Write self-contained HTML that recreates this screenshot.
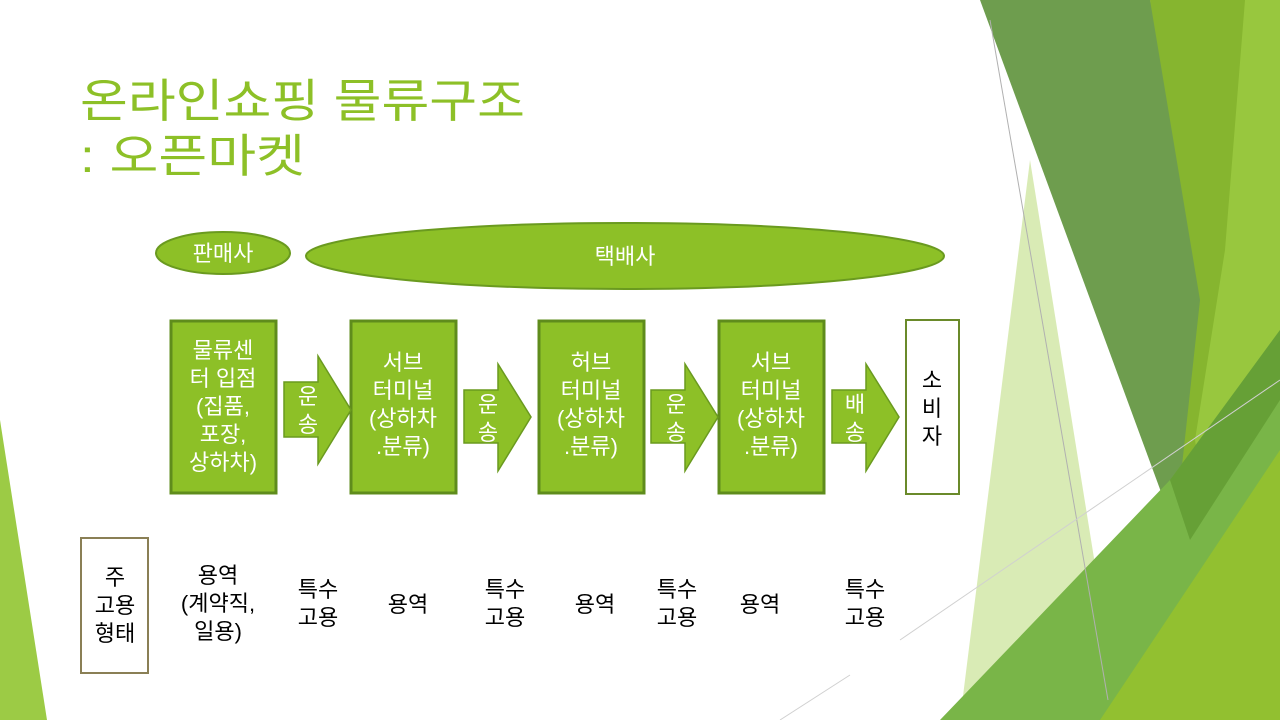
<!DOCTYPE html>
<html><head><meta charset="utf-8"><style>
html,body{margin:0;padding:0;background:#fff;}
svg{display:block;}
text{font-family:"Liberation Sans","Noto Sans CJK KR",sans-serif;}
</style></head><body>
<svg width="1280" height="720" viewBox="0 0 1280 720" xmlns="http://www.w3.org/2000/svg">
<!-- decorations -->
<polygon points="0,420 47,720 0,720" fill="#9ccb45"/>
<polygon points="1030,160 1120,720 960,720" fill="#cfe6a3" opacity="0.8"/>
<polygon points="1150,0 1255,0 1230,250 1190,540 1175,530" fill="#86b52f"/>
<polygon points="1245,0 1280,0 1280,720 1240,720 1195,440 1225,250" fill="#98c73e"/>
<polygon points="980,0 1150,0 1200,300 1175,530" fill="#6e9d4e"/>
<polygon points="940,720 1170,480 1280,330 1280,720" fill="#79b548"/>
<polygon points="1100,720 1280,450 1280,720" fill="#92c030"/>
<polygon points="1170,480 1190,540 1280,400 1280,330" fill="#5a922b" opacity="0.6"/>
<line x1="990" y1="20" x2="1108" y2="700" stroke="#b0b0b0" stroke-width="1"/>
<line x1="900" y1="640" x2="1280" y2="380" stroke="#d0d0d0" stroke-width="1"/>
<line x1="780" y1="720" x2="850" y2="675" stroke="#d0d0d0" stroke-width="1"/>

<!-- title -->
<text x="80" y="117" font-size="46" fill="#8dc027" textLength="445" lengthAdjust="spacingAndGlyphs">온라인쇼핑 물류구조</text>
<text x="80" y="172" font-size="46" fill="#8dc027" textLength="225" lengthAdjust="spacingAndGlyphs">: 오픈마켓</text>

<!-- ellipses -->
<ellipse cx="223" cy="253" rx="67" ry="21" fill="#8dc027" stroke="#6a9a1f" stroke-width="2"/>
<text x="223" y="261" font-size="22" fill="#fff" text-anchor="middle">판매사</text>
<ellipse cx="625" cy="256" rx="319" ry="33" fill="#8dc027" stroke="#6a9a1f" stroke-width="2"/>
<text x="625" y="264" font-size="22" fill="#fff" text-anchor="middle">택배사</text>

<!-- boxes -->
<g fill="#8dc027" stroke="#5f8c1c" stroke-width="3">
<rect x="171" y="321" width="105" height="172"/>
<rect x="351" y="321" width="105" height="172"/>
<rect x="539" y="321" width="105" height="172"/>
<rect x="719" y="321" width="105" height="172"/>
</g>
<rect x="906" y="320" width="53" height="174" fill="#fff" stroke="#6a8a2a" stroke-width="2"/>

<g font-size="22" fill="#fff" text-anchor="middle">
<text x="223" y="358">물류센</text>
<text x="223" y="386">터 입점</text>
<text x="223" y="414">(집품,</text>
<text x="223" y="442">포장,</text>
<text x="223" y="470">상하차)</text>
<text x="403" y="370">서브</text>
<text x="403" y="398">터미널</text>
<text x="403" y="426">(상하차</text>
<text x="403" y="454">.분류)</text>
<text x="591" y="370">허브</text>
<text x="591" y="398">터미널</text>
<text x="591" y="426">(상하차</text>
<text x="591" y="454">.분류)</text>
<text x="771" y="370">서브</text>
<text x="771" y="398">터미널</text>
<text x="771" y="426">(상하차</text>
<text x="771" y="454">.분류)</text>
</g>
<g font-size="22" fill="#000" text-anchor="middle">
<text x="932" y="388">소</text>
<text x="932" y="416">비</text>
<text x="932" y="444">자</text>
</g>

<!-- arrows -->
<g fill="#8dc027" stroke="#6a9a1f" stroke-width="1.5">
<polygon points="284,382 318,382 318,356 351,410 318,464 318,437 284,437"/>
<polygon points="464,390 498,390 498,364 531,417 498,471 498,443 464,443"/>
<polygon points="651,390 685,390 685,364 718,417 685,471 685,443 651,443"/>
<polygon points="832,390 866,390 866,364 899,417 866,471 866,443 832,443"/>
</g>
<g font-size="22" fill="#fff" text-anchor="middle">
<text x="308" y="404">운</text><text x="308" y="432">송</text>
<text x="488" y="412">운</text><text x="488" y="440">송</text>
<text x="676" y="412">운</text><text x="676" y="440">송</text>
<text x="855" y="412">배</text><text x="855" y="440">송</text>
</g>

<!-- bottom row -->
<rect x="81" y="538" width="67" height="135" fill="#fff" stroke="#8a7f55" stroke-width="2"/>
<g font-size="22" fill="#000" text-anchor="middle">
<text x="115" y="585">주</text>
<text x="115" y="613">고용</text>
<text x="115" y="641">형태</text>
<text x="218" y="583">용역</text>
<text x="218" y="611">(계약직,</text>
<text x="218" y="639">일용)</text>
<text x="318" y="597">특수</text>
<text x="318" y="625">고용</text>
<text x="408" y="612">용역</text>
<text x="505" y="597">특수</text>
<text x="505" y="625">고용</text>
<text x="595" y="612">용역</text>
<text x="677" y="597">특수</text>
<text x="677" y="625">고용</text>
<text x="760" y="612">용역</text>
<text x="865" y="597">특수</text>
<text x="865" y="625">고용</text>
</g>
</svg>
</body></html>
